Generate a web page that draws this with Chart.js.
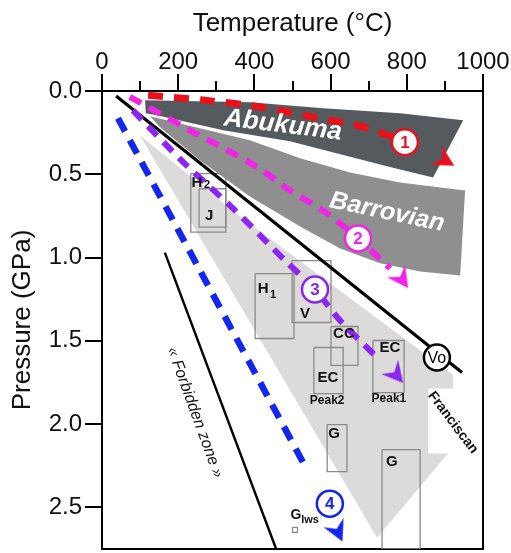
<!DOCTYPE html>
<html><head><meta charset="utf-8">
<script src="https://cdn.jsdelivr.net/npm/chart.js@4"></script>
<style>html,body{margin:0;padding:0;background:#fff;}</style>
</head><body>
<canvas id="c" width="511" height="553"></canvas>
<script>
const FONT = '"Liberation Sans", Arial, Helvetica, sans-serif';

// ---- axis ticks ----
const tempTicks = [0, 200, 400, 600, 800, 1000];
const pressTicks = [0, 0.5, 1.0, 1.5, 2.0, 2.5];

// ---- metamorphic fields (T in °C, P in GPa) ----
const abukumaT = [113, 388, 580, 782, 948, 869, 756, 669, 493, 318, 144, 115];
const abukumaP = [0.056, 0.068, 0.104, 0.134, 0.176, 0.519, 0.457, 0.406, 0.302, 0.236, 0.146, 0.134];
const barrovianT = [126, 257, 388, 520, 651, 782, 953, 940, 835, 730, 625, 520, 388, 257, 152];
const barrovianP = [0.152, 0.224, 0.296, 0.404, 0.489, 0.549, 0.597, 1.108, 1.084, 1.035, 0.945, 0.813, 0.633, 0.416, 0.218];
const subductionT = [99, 352, 921, 921, 856, 856, 908, 722];
const subductionP = [0.266, 0.736, 1.703, 1.787, 1.787, 2.177, 2.177, 2.682];

// ---- reference lines ----
const geothermT = [37, 945];
const geothermP = [0.03, 1.69];
const forbiddenT = [165, 457];
const forbiddenP = [0.97, 2.75];

// ---- P-T paths ----
const path1T = [121, 270, 415, 551, 685, 795, 848];
const path1P = [0.026, 0.056, 0.096, 0.156, 0.216, 0.306, 0.368];
const path2T = [73, 231, 407, 493, 580, 672, 756];
const path2P = [0.036, 0.236, 0.456, 0.597, 0.717, 0.885, 1.065];
const path3T = [81, 213, 344, 485, 559, 625, 722];
const path3P = [0.116, 0.427, 0.705, 1.028, 1.192, 1.378, 1.6];
const path4T = [42, 257, 535];
const path4P = [0.164, 1.077, 2.261];
// arrow heads (end of each path)
const arrowT = [900, 787, 772, 619];
const arrowP = [0.416, 1.13, 1.703, 2.646];
// numbered markers
const markerText = ['1', '2', '3', '4', 'Vo'];
const markerT = [795, 672, 559, 598, 879];
const markerP = [0.308, 0.885, 1.192, 2.478, 1.6];

// ---- P-T estimate boxes ----
const boxName = ['H2', 'J', 'H1', 'V', 'CC', 'EC2', 'EC1', 'G1', 'G2', 'Glws'];
const boxTmin = [233, 255, 402, 499, 601, 556, 711, 591, 735, 500];
const boxTmax = [325, 325, 504, 601, 672, 633, 793, 643, 835, 513];
const boxPmin = [0.496, 0.587, 1.096, 1.018, 1.414, 1.54, 1.498, 2.003, 2.153, 2.62];
const boxPmax = [0.847, 0.817, 1.486, 1.39, 1.648, 1.817, 1.811, 2.285, 2.75, 2.65];

// ---- text annotations ----
const noteText = ['Abukuma', 'Barrovian', '« Forbidden zone »', 'Franciscan',
  'H', '2', 'J', 'H', '1', 'V', 'CC', 'EC', 'Peak2', 'EC', 'Peak1', 'G', 'G', 'G', 'lws'];
const noteT = [475, 748, 244, 921, 249, 276, 281, 423, 449, 533, 635, 593, 591, 756, 753, 609, 761, 509, 546];
const noteP = [0.206, 0.729, 1.931, 1.991, 0.549, 0.567, 0.747, 1.191, 1.222, 1.336, 1.456, 1.721, 1.859, 1.54, 1.847, 2.057, 2.225, 2.544, 2.574];

// ---------------------------------------------------------------
const pts = (T, P) => T.map((t, i) => ({x: t, y: P[i]}));

const colors = {red: '#e8121c', magenta: '#f024e6', purple: '#8c24f2', blue: '#1226ee'};

function arrowImg(color) {
  const c = document.createElement('canvas');
  c.width = 24; c.height = 24;
  const g = c.getContext('2d');
  g.fillStyle = color;
  g.beginPath();
  g.moveTo(23, 12); g.lineTo(2, 1); g.lineTo(9, 12); g.lineTo(2, 23);
  g.closePath(); g.fill();
  return c;
}

const datasets = [];
// filled fields (filled by plugin, drawn beneath everything)
datasets.push({label: 'subduction', data: pts(subductionT, subductionP), polyColor: '#dcdbd9', showLine: false, pointRadius: 0});
datasets.push({label: 'Barrovian', data: pts(barrovianT, barrovianP), polyColor: '#8f8f8f', showLine: false, pointRadius: 0});
datasets.push({label: 'Abukuma', data: pts(abukumaT, abukumaP), polyColor: '#555a5e', showLine: false, pointRadius: 0});

// boxes
boxName.forEach((n, i) => {
  datasets.push({label: n, data: [
    {x: boxTmin[i], y: boxPmin[i]}, {x: boxTmax[i], y: boxPmin[i]},
    {x: boxTmax[i], y: boxPmax[i]}, {x: boxTmin[i], y: boxPmax[i]},
    {x: boxTmin[i], y: boxPmin[i]}],
    showLine: true, borderColor: '#8a8a8a', borderWidth: 1.3, pointRadius: 0, tension: 0, order: 8});
});

// solid lines
datasets.push({label: 'geotherm', data: pts(geothermT, geothermP), showLine: true, borderColor: '#000', borderWidth: 3.2, pointRadius: 0, order: 7});
datasets.push({label: 'forbidden', data: pts(forbiddenT, forbiddenP), showLine: true, borderColor: '#000', borderWidth: 2.4, pointRadius: 0, order: 7});

// dashed P-T paths
const pathDefs = [
  [path1T, path1P, colors.red, [15, 11], 7],
  [path2T, path2P, colors.magenta, [13, 9], 6],
  [path3T, path3P, colors.purple, [13, 9], 6],
  [path4T, path4P, colors.blue, [15, 10], 6.5]
];
pathDefs.forEach((d, i) => {
  datasets.push({label: 'path' + (i + 1), data: pts(d[0], d[1]), showLine: true, borderColor: d[2],
    borderDash: d[3], borderWidth: d[4], borderCapStyle: 'butt', pointRadius: 0, tension: 0.3, order: 6});
});

// arrow heads
const arrowCols = [colors.red, colors.magenta, colors.purple, colors.blue];
const arrowRot = [30, 55, 50, 65];
arrowT.forEach((t, i) => {
  datasets.push({label: 'arrow' + i, data: [{x: t, y: arrowP[i]}], pointStyle: arrowImg(arrowCols[i]),
    rotation: arrowRot[i], pointRadius: 10, showLine: false, order: 5});
});

// numbered circles
datasets.push({label: 'markers', data: pts(markerT, markerP), showLine: false, pointStyle: 'circle',
  pointRadius: 13, pointBorderWidth: 2.5, pointBackgroundColor: '#fff',
  pointBorderColor: [colors.red, colors.magenta, colors.purple, colors.blue, '#000'], order: 4});

const noteStyle = [
  {f: 'italic bold 26px', c: '#fff', r: 7},
  {f: 'italic bold 25px', c: '#fff', r: 12},
  {f: 'italic 16px', c: '#111', r: 70},
  {f: 'bold 14px', c: '#111', r: 53},
  {f: 'bold 15px', c: '#111'}, {f: 'bold 11px', c: '#111'},
  {f: 'bold 15px', c: '#111'},
  {f: 'bold 15px', c: '#111'}, {f: 'bold 11px', c: '#111'},
  {f: 'bold 15px', c: '#111'}, {f: 'bold 15px', c: '#111'}, {f: 'bold 15px', c: '#111'},
  {f: 'bold 12px', c: '#111'}, {f: 'bold 15px', c: '#111'}, {f: 'bold 12px', c: '#111'},
  {f: 'bold 15px', c: '#111'}, {f: 'bold 15px', c: '#111'}, {f: 'bold 14px', c: '#111'},
  {f: 'bold 11px', c: '#111'}
];
const markerCols = [colors.red, colors.magenta, colors.purple, colors.blue, '#000'];

const polyFill = {
  id: 'polyFill',
  beforeDatasetsDraw(chart) {
    const {ctx, chartArea: a} = chart;
    ctx.save();
    ctx.beginPath(); ctx.rect(a.left, a.top, a.right - a.left, a.bottom - a.top); ctx.clip();
    chart.data.datasets.forEach((ds, i) => {
      if (!ds.polyColor) return;
      const el = chart.getDatasetMeta(i).data;
      ctx.beginPath();
      el.forEach((p, j) => j ? ctx.lineTo(p.x, p.y) : ctx.moveTo(p.x, p.y));
      ctx.closePath();
      ctx.fillStyle = ds.polyColor;
      ctx.fill();
    });
    ctx.restore();
  }
};

const notes = {
  id: 'notes',
  afterDatasetsDraw(chart) {
    const {ctx} = chart;
    const xs = chart.scales.x, ys = chart.scales.y;
    ctx.save();
    ctx.textAlign = 'center'; ctx.textBaseline = 'middle';
    noteText.forEach((t, i) => {
      const s = noteStyle[i];
      ctx.save();
      ctx.translate(xs.getPixelForValue(noteT[i]), ys.getPixelForValue(noteP[i]));
      ctx.rotate((s.r || 0) * Math.PI / 180);
      ctx.font = s.f + ' ' + FONT;
      ctx.fillStyle = s.c;
      ctx.fillText(t, 0, 0);
      ctx.restore();
    });
    markerText.forEach((t, i) => {
      ctx.font = (i < 4 ? 'bold 17px ' : '16px ') + FONT;
      ctx.fillStyle = markerCols[i];
      ctx.fillText(t, xs.getPixelForValue(markerT[i]), ys.getPixelForValue(markerP[i]) + 1);
    });
    ctx.restore();
  }
};

new Chart(document.getElementById('c'), {
  type: 'scatter',
  data: {datasets},
  plugins: [polyFill, notes],
  options: {
    responsive: false, animation: false, devicePixelRatio: 1,
    layout: {autoPadding: false, padding: {left: 0, top: 0, right: 28, bottom: 4}},
    plugins: {legend: {display: false}, tooltip: {enabled: false}},
    scales: {
      x: {type: 'linear', position: 'top', min: 0, max: 1000, weight: 1,
        afterBuildTicks: s => { s.ticks = tempTicks.map(v => ({value: v})); },
        ticks: {callback: v => String(v), font: {size: 24, family: FONT}, color: '#111', padding: -3, maxRotation: 0, autoSkip: false},
        grid: {drawOnChartArea: false, tickLength: 17, color: '#000', lineWidth: 2},
        border: {display: true, color: '#000', width: 2},
        title: {display: true, text: 'Temperature (°C)', font: {size: 26, family: FONT}, color: '#111', padding: {top: 8, bottom: 0}},
        afterFit: s => { s.height = 91; s.paddingLeft = 0; s.paddingRight = 0; }
      },
      xMinor: {type: 'linear', position: 'top', min: 0, max: 1000, weight: 0,
        ticks: {display: false, stepSize: 100, autoSkip: false},
        grid: {drawOnChartArea: false, tickLength: 10, color: '#000', lineWidth: 2},
        border: {display: false},
        afterFit: s => { s.height = 0; s.paddingLeft = 0; s.paddingRight = 0; }
      },
      xB: {type: 'linear', position: 'bottom', min: 0, max: 1000,
        ticks: {display: false}, grid: {display: false},
        border: {display: true, color: '#000', width: 2},
        afterFit: s => { s.height = 0; s.paddingLeft = 0; s.paddingRight = 0; }
      },
      y: {type: 'linear', position: 'left', reverse: true, min: 0, max: 2.75, weight: 1,
        afterBuildTicks: s => { s.ticks = pressTicks.map(v => ({value: v})); },
        ticks: {callback: v => Number(v).toFixed(1), font: {size: 24, family: FONT}, color: '#111', padding: 3, autoSkip: false},
        grid: {drawOnChartArea: false, tickLength: 17, color: '#000', lineWidth: 2},
        border: {display: true, color: '#000', width: 2},
        title: {display: true, text: 'Pressure (GPa)', font: {size: 26, family: FONT}, color: '#111', padding: {top: 7, bottom: 0}},
        afterFit: s => { s.width = 102; s.paddingTop = 0; s.paddingBottom = 0; }
      },
      yR: {type: 'linear', position: 'right', reverse: true, min: 0, max: 2.75,
        ticks: {display: false}, grid: {display: false},
        border: {display: true, color: '#000', width: 2},
        afterFit: s => { s.width = 0; s.paddingTop = 0; s.paddingBottom = 0; }
      }
    }
  }
});
</script>
</body></html>
